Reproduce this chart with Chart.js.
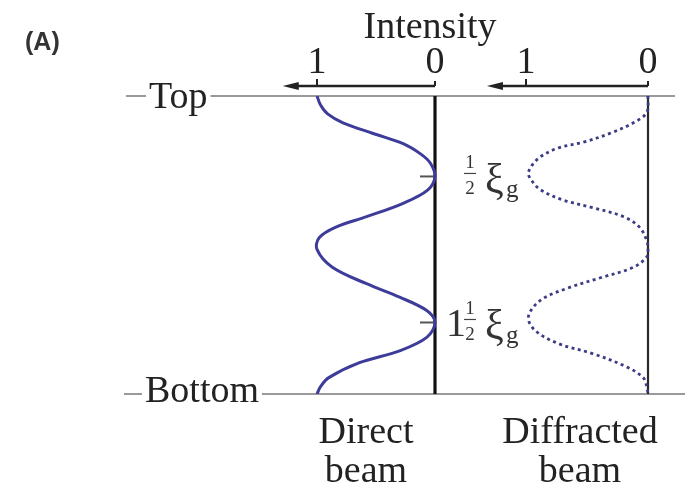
<!DOCTYPE html>
<html>
<head>
<meta charset="utf-8">
<script src="https://cdn.jsdelivr.net/npm/chart.js@4/dist/chart.umd.min.js"></script>
<style>
  html, body { margin: 0; padding: 0; background: #ffffff; }
  #wrap { width: 690px; height: 493px; }
</style>
</head>
<body>
<div id="wrap"><canvas id="c" width="690" height="493"></canvas></div>
<script>
// Depth below the entrance surface, in units of the extinction distance ξg (0 = top, 2 = bottom)
const directDepth = [0.00, 0.06, 0.12, 0.18, 0.25, 0.32, 0.39, 0.45, 0.54, 0.63, 0.72, 0.81, 0.88,
                     0.95, 1.03, 1.15, 1.26, 1.35, 1.44, 1.52, 1.62, 1.71, 1.79, 1.89, 1.95, 2.00];
// Relative intensity of the direct beam at those depths
const directIntensity = [1.00, 0.97, 0.91, 0.78, 0.53, 0.27, 0.12, 0.04, 0.00, 0.06, 0.27, 0.58, 0.84,
                         0.98, 1.00, 0.87, 0.58, 0.30, 0.07, 0.00, 0.07, 0.30, 0.64, 0.90, 0.97, 1.00];

const diffractedDepth = [0.00, 0.11, 0.18, 0.25, 0.31, 0.35, 0.42, 0.51, 0.56, 0.63, 0.70, 0.75,
                         0.81, 0.88, 0.97, 1.03, 1.08, 1.15, 1.22, 1.29, 1.37, 1.48, 1.57, 1.66,
                         1.73, 1.82, 1.89, 1.95, 2.00];
const diffractedIntensity = [0.00, 0.01, 0.12, 0.31, 0.53, 0.74, 0.90, 0.98, 0.96, 0.88, 0.69, 0.45,
                             0.20, 0.07, 0.01, 0.00, 0.01, 0.12, 0.39, 0.66, 0.88, 0.98, 0.93, 0.74,
                             0.45, 0.17, 0.04, 0.01, 0.00];

// Intensity axis ticks and the depths marked where the direct beam vanishes
const intensityTicks = [1, 0];
const zeroDepths = [0.54, 1.52];
const zeroWholePart = ['', '1'];

const SERIF = '"Liberation Serif", "DejaVu Serif", serif';
const CURVE_BLUE = '#3e3c9a';
const DOT_BLUE = '#3c3c86';

// Map an intensity axis so that 0 and 1 land at the given pixel columns (reversed: 1 on the left)
function reversedRange(px0, px1, left, right) {
  const unit = px0 - px1;
  const max = (px0 - left) / unit;
  return { min: max - (right - left) / unit, max: max };
}
const AREA = { left: 128, right: 685, top: 96, bottom: 394 };
const directRange = reversedRange(435, 317, AREA.left, AREA.right);
const diffractedRange = reversedRange(648, 526, AREA.left, AREA.right);

function pairs(xs, ys) { return ys.map((y, i) => ({ x: xs[i], y: y })); }

function arrowAxis(ctx, xScale, yPix, endValue) {
  const x0 = xScale.getPixelForValue(0);
  const xe = xScale.getPixelForValue(endValue);
  ctx.save();
  ctx.strokeStyle = '#222';
  ctx.fillStyle = '#222';
  ctx.lineWidth = 2.5;
  ctx.beginPath();
  ctx.moveTo(x0, yPix);
  ctx.lineTo(xe + 12, yPix);
  ctx.stroke();
  ctx.beginPath();
  ctx.moveTo(xe, yPix);
  ctx.lineTo(xe + 16, yPix - 4);
  ctx.lineTo(xe + 16, yPix + 4);
  ctx.closePath();
  ctx.fill();
  ctx.lineWidth = 2;
  intensityTicks.forEach(v => {
    const x = xScale.getPixelForValue(v);
    ctx.beginPath();
    ctx.moveTo(x, yPix);
    ctx.lineTo(x, yPix - (v === 0 ? 5 : 7));
    ctx.stroke();
  });
  ctx.font = '38px ' + SERIF;
  ctx.textAlign = 'center';
  ctx.textBaseline = 'alphabetic';
  intensityTicks.forEach(v => {
    ctx.fillText(String(v), xScale.getPixelForValue(v), yPix - 13);
  });
  ctx.restore();
}

function maskedText(ctx, text, x, y) {
  ctx.font = '38px ' + SERIF;
  const w = ctx.measureText(text).width;
  ctx.fillStyle = '#ffffff';
  ctx.fillRect(x - 3, y - 28, w + 6, 38);
  ctx.fillStyle = '#222';
  ctx.textAlign = 'left';
  ctx.fillText(text, x, y);
}

const decor = {
  id: 'decor',
  beforeDatasetsDraw(chart) {
    const { ctx, scales } = chart;
    const yT = scales.y.getPixelForValue(0);
    const yB = scales.y.getPixelForValue(2);
    ctx.save();
    // surface lines
    ctx.strokeStyle = '#9a9a9a';
    ctx.lineWidth = 1.8;
    ctx.beginPath();
    ctx.moveTo(126, yT); ctx.lineTo(675, yT);
    ctx.moveTo(124, yB); ctx.lineTo(685, yB);
    ctx.stroke();
    // zero-intensity lines
    ctx.strokeStyle = '#111';
    ctx.lineWidth = 3.2;
    const xd0 = scales.xd.getPixelForValue(0);
    ctx.beginPath(); ctx.moveTo(xd0, yT); ctx.lineTo(xd0, yB); ctx.stroke();
    ctx.strokeStyle = '#2a2a2a';
    ctx.lineWidth = 2.2;
    const xf0 = scales.xf.getPixelForValue(0);
    ctx.beginPath(); ctx.moveTo(xf0, yT); ctx.lineTo(xf0, yB); ctx.stroke();
    // small marks where the direct beam vanishes
    ctx.strokeStyle = '#555';
    ctx.lineWidth = 2;
    zeroDepths.forEach(d => {
      const y = scales.y.getPixelForValue(d);
      ctx.beginPath(); ctx.moveTo(xd0 - 15, y); ctx.lineTo(xd0, y); ctx.stroke();
    });
    ctx.restore();
  },
  afterDatasetsDraw(chart) {
    const { ctx, scales } = chart;
    const yT = scales.y.getPixelForValue(0);
    const yB = scales.y.getPixelForValue(2);
    ctx.save();
    maskedText(ctx, 'Top', 149, yT + 12);
    maskedText(ctx, 'Bottom', 145, yB + 8);

    arrowAxis(ctx, scales.xd, yT - 10, 1.29);
    arrowAxis(ctx, scales.xf, yT - 10, 1.32);

    ctx.fillStyle = '#222';
    ctx.font = '38px ' + SERIF;
    ctx.textAlign = 'center';
    ctx.fillText('Intensity', 430, 38);

    ctx.fillText('Direct', 366, 443);
    ctx.fillText('beam', 366, 482);
    ctx.fillText('Diffracted', 580, 443);
    ctx.fillText('beam', 580, 482);

    // depth labels ½ξg and 1½ξg
    zeroDepths.forEach((d, i) => {
      const yz = scales.y.getPixelForValue(d);
      ctx.fillStyle = '#333';
      if (zeroWholePart[i]) {
        ctx.font = '40px ' + SERIF;
        ctx.textAlign = 'center';
        ctx.fillText(zeroWholePart[i], 456, yz + 14);
      }
      ctx.font = '19px ' + SERIF;
      ctx.textAlign = 'center';
      ctx.fillText('1', 470, yz - 8);
      ctx.fillText('2', 470, yz + 18);
      ctx.strokeStyle = '#444';
      ctx.lineWidth = 1.2;
      ctx.beginPath(); ctx.moveTo(464, yz - 3); ctx.lineTo(476, yz - 3); ctx.stroke();
      ctx.font = '42px ' + SERIF;
      ctx.textAlign = 'left';
      ctx.fillText('ξ', 485, yz + 17);
      ctx.font = '25px ' + SERIF;
      ctx.fillText('g', 506, yz + 21);
    });

    ctx.font = 'bold 25px "Liberation Sans", Arial, sans-serif';
    ctx.fillStyle = '#333';
    ctx.textAlign = 'left';
    ctx.fillText('(A)', 25, 50);
    ctx.restore();
  }
};

new Chart(document.getElementById('c'), {
  type: 'scatter',
  data: {
    datasets: [
      {
        label: 'Direct beam',
        data: pairs(directIntensity, directDepth),
        xAxisID: 'xd',
        yAxisID: 'y',
        showLine: true,
        borderColor: CURVE_BLUE,
        borderWidth: 3,
        tension: 0.35,
        pointRadius: 0,
        fill: false
      },
      {
        label: 'Diffracted beam',
        data: pairs(diffractedIntensity, diffractedDepth),
        xAxisID: 'xf',
        yAxisID: 'y',
        showLine: true,
        borderColor: DOT_BLUE,
        borderWidth: 2.8,
        borderDash: [3, 3.5],
        tension: 0.35,
        pointRadius: 0,
        fill: false
      }
    ]
  },
  options: {
    responsive: false,
    animation: false,
    devicePixelRatio: 1,
    layout: {
      padding: { left: AREA.left, right: 690 - AREA.right, top: AREA.top, bottom: 493 - AREA.bottom }
    },
    plugins: { legend: { display: false }, tooltip: { enabled: false } },
    scales: {
      y: { type: 'linear', min: 0, max: 2, reverse: true, display: false },
      xd: { type: 'linear', axis: 'x', position: 'bottom', reverse: true,
            min: directRange.min, max: directRange.max, display: false },
      xf: { type: 'linear', axis: 'x', position: 'bottom', reverse: true,
            min: diffractedRange.min, max: diffractedRange.max, display: false }
    }
  },
  plugins: [decor]
});
</script>
</body>
</html>
